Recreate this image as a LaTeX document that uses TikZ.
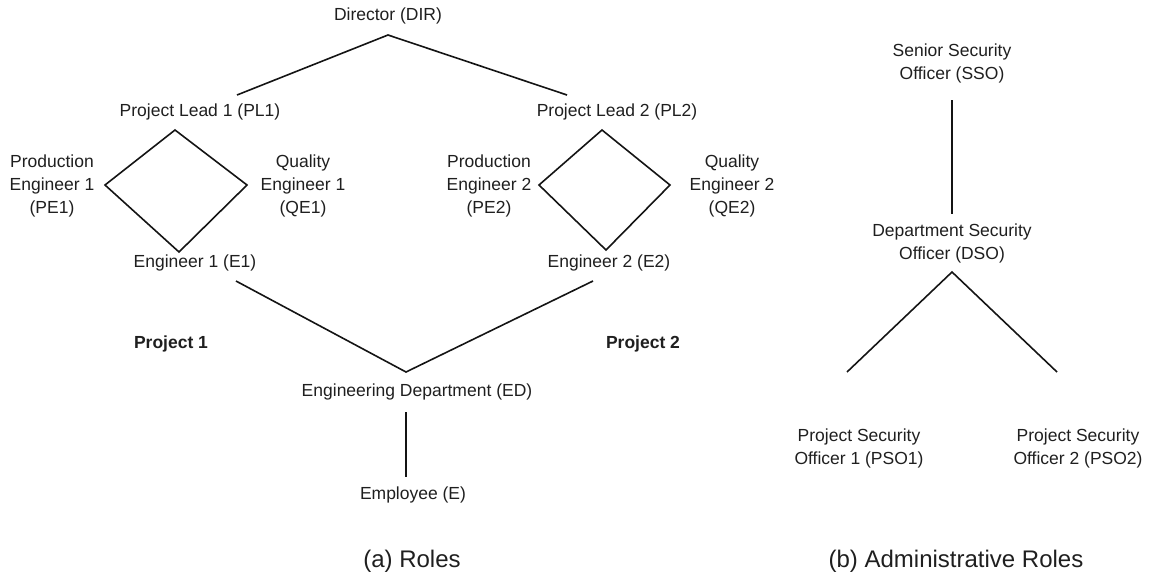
\documentclass[tikz,border=0pt]{standalone}
\usepackage{fontspec}
\setmainfont{Liberation Sans}
\begin{document}
\begin{tikzpicture}[x=1pt,y=-1pt,
  role/.style={inner sep=0pt, align=center, text=black!88,
    font=\fontsize{17.5}{23}\selectfont},
  group/.style={inner sep=0pt, text=black!88,
    font=\fontsize{17.5}{23}\selectfont\bfseries},
  caption/.style={inner sep=0pt, text=black!88,
    font=\fontsize{24}{28}\selectfont},
  link/.style={draw=black!92, line width=1.6pt}]
\useasboundingbox (0,0) rectangle (1155,579);

% ---- (a) role hierarchy ----
\node[role] (dir) at (388,16) {Director (DIR)};
\node[role] (pl1) at (200,112) {Project Lead 1 (PL1)};
\node[role] (pl2) at (617,112) {Project Lead 2 (PL2)};
\node[role] (pe1) at (52,186) {Production\\Engineer 1\\(PE1)};
\node[role] (qe1) at (303,186) {Quality\\Engineer 1\\(QE1)};
\node[role] (pe2) at (489,186) {Production\\Engineer 2\\(PE2)};
\node[role] (qe2) at (732,186) {Quality\\Engineer 2\\(QE2)};
\node[role] (e1) at (195,263) {Engineer 1 (E1)};
\node[role] (e2) at (609,263) {Engineer 2 (E2)};
\node[group] (prj1) at (171,344) {Project 1};
\node[group] (prj2) at (643,344) {Project 2};
\node[role] (ed) at (417,392) {Engineering Department (ED)};
\node[role] (emp) at (413,495) {Employee (E)};

% line ends
\coordinate (dirA) at (388,35);
\coordinate (pl1T) at (237,95);
\coordinate (pl2T) at (567,95);
\coordinate (d1t) at (175,130);
\coordinate (d1l) at (105,185);
\coordinate (d1r) at (247,185);
\coordinate (d1b) at (179,252);
\coordinate (d2t) at (602,130);
\coordinate (d2l) at (539,185);
\coordinate (d2r) at (670,185);
\coordinate (d2b) at (606,250);
\coordinate (e1B) at (236,281);
\coordinate (e2B) at (593,281);
\coordinate (edA) at (406,372);
\coordinate (edB) at (406,412);
\coordinate (empT) at (406,477);

\draw[link] (pl1T) -- (dirA) -- (pl2T);
\draw[link] (d1t) -- (d1l) -- (d1b) -- (d1r) -- cycle;
\draw[link] (d2t) -- (d2l) -- (d2b) -- (d2r) -- cycle;
\draw[link] (e1B) -- (edA) -- (e2B);
\draw[link] (edB) -- (empT);

% ---- (b) administrative role hierarchy ----
\node[role] (sso) at (952,63) {Senior Security\\Officer (SSO)};
\node[role] (dso) at (952,243) {Department Security\\Officer (DSO)};
\node[role] (pso1) at (859,448) {Project Security\\Officer 1 (PSO1)};
\node[role] (pso2) at (1078,448) {Project Security\\Officer 2 (PSO2)};

\coordinate (ssoB) at (952,100);
\coordinate (dsoT) at (952,214);
\coordinate (dsoA) at (952,272);
\coordinate (pso1T) at (847,372);
\coordinate (pso2T) at (1057,372);

\draw[link] (ssoB) -- (dsoT);
\draw[link] (pso1T) -- (dsoA) -- (pso2T);

% ---- captions ----
\node[caption] (capa) at (412,561) {(a) Roles};
\node[caption] (capb) at (956,561) {(b) Administrative Roles};
\end{tikzpicture}
\end{document}
